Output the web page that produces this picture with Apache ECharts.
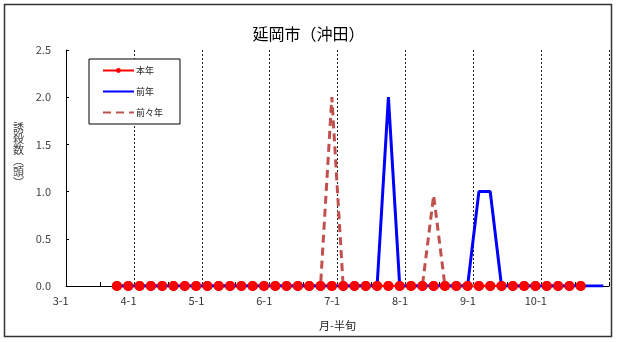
<!DOCTYPE html>
<html>
<head>
<meta charset="utf-8">
<script src="https://cdn.jsdelivr.net/npm/echarts@6/dist/echarts.min.js"></script>
<style>
html,body{margin:0;padding:0;background:#fff;}
#c{width:617px;height:342px;}
</style>
</head>
<body>
<div id="c"></div>
<script>
var months = ['3', '4', '5', '6', '7', '8', '9', '10'];
var halves = ['1', '2', '3', '4', '5', '6'];
var categories = [];
months.forEach(function (m) { halves.forEach(function (h) { categories.push(m + '-' + h); }); });

var seriesNames = ['本年', '前年', '前々年'];
var chartTitle = '延岡市（沖田）';
var yAxisTitle = '誘\n殺\n数\n︵\n頭\n︶';
var xAxisTitle = '月-半旬';

// 本年 (this year)
var thisYear = [
  null, null, null, null, 0, 0,
  0, 0, 0, 0, 0, 0,
  0, 0, 0, 0, 0, 0,
  0, 0, 0, 0, 0, 0,
  0, 0, 0, 0, 0, 0,
  0, 0, 0, 0, 0, 0,
  0, 0, 0, 0, 0, 0,
  0, 0, 0, 0, null, null
];
// 前年 (last year)
var lastYear = [
  null, null, null, null, 0, 0,
  0, 0, 0, 0, 0, 0,
  0, 0, 0, 0, 0, 0,
  0, 0, 0, 0, 0, 0,
  0, 0, 0, 0, 2, 0,
  0, 0, 0, 0, 0, 0,
  1, 1, 0, 0, 0, 0,
  0, 0, 0, 0, 0, 0
];
// 前々年 (two years ago)
var twoYearsAgo = [
  null, null, null, null, 0, 0,
  0, 0, 0, 0, 0, 0,
  0, 0, 0, 0, 0, 0,
  0, 0, 0, 0, 0, 2,
  0, 0, 0, 0, 0, 0,
  0, 0, 0.96, 0, 0, 0,
  0, 0, 0, 0, 0, 0,
  0, 0, 0, 0, null, null
];

var font = '"Noto Sans CJK JP", "Noto Sans", sans-serif';
var transparent = 'rgba(0,0,0,0)';
var chart = echarts.init(document.getElementById('c'), null, {renderer: 'canvas'});
chart.setOption({
  animation: false,
  backgroundColor: '#fff',
  textStyle: {fontFamily: font},
  title: {
    text: chartTitle,
    left: 'center',
    top: 21,
    textStyle: {fontSize: 16, fontWeight: 'normal', color: '#000', fontFamily: font}
  },
  graphic: [{
    type: 'rect',
    shape: {x: 4.5, y: 4.5, width: 607, height: 332},
    style: {fill: 'none', stroke: '#333', lineWidth: 1.5},
    silent: true,
    z: -1
  }, {
    type: 'text',
    left: 13,
    top: 122,
    silent: true,
    style: {
      text: yAxisTitle,
      font: '11px "Noto Sans CJK JP", sans-serif',
      lineHeight: 11,
      fill: '#444'
    }
  }],
  legend: {
    data: seriesNames,
    orient: 'vertical',
    left: 89,
    top: 59,
    padding: [7, 17, 7, 13],
    itemWidth: 31,
    itemHeight: 6,
    itemGap: 12,
    borderColor: '#000',
    borderWidth: 1,
    backgroundColor: '#fff',
    textStyle: {fontSize: 9, color: '#222', fontFamily: font, padding: [0, 0, 0, -3]}
  },
  grid: {left: 66, right: 8, top: 50, bottom: 56, containLabel: false},
  xAxis: {
    type: 'category',
    data: categories,
    boundaryGap: true,
    name: xAxisTitle,
    nameLocation: 'middle',
    nameGap: 34,
    nameTextStyle: {fontSize: 11, color: '#222', fontFamily: font},
    axisLine: {lineStyle: {color: '#000', width: 1}},
    axisTick: {
      show: true, inside: true, length: 4,
      interval: function (i) { return i % 6 === 3; },
      lineStyle: {color: '#000'}
    },
    axisLabel: {
      interval: function (i) { return i % 6 === 0; },
      fontSize: 11, color: '#333', margin: 9,
      padding: [0, 22, 0, 0],
      fontFamily: font
    },
    splitLine: {
      show: true,
      interval: function (i) { return i % 6 === 0 && i > 0; },
      lineStyle: {color: '#222', type: [2, 2], width: 1}
    }
  },
  yAxis: {
    type: 'value',
    min: 0,
    max: 2.5,
    interval: 0.5,
    axisLine: {show: true, lineStyle: {color: '#000', width: 1}},
    axisTick: {show: true, inside: true, length: 3, lineStyle: {color: '#000'}},
    axisLabel: {
      fontSize: 11, color: '#444', margin: 15, fontFamily: font,
      formatter: function (v) { return v.toFixed(1); }
    },
    splitLine: {show: false}
  },
  series: [
    {
      name: seriesNames[0], type: 'line', data: thisYear, z: 2,
      symbol: 'circle', symbolSize: 10, showSymbol: true, showAllSymbol: true,
      itemStyle: {color: '#ff0000', opacity: 1},
      lineStyle: {color: '#ff0000', width: 2.5}
    },
    {
      name: seriesNames[2], type: 'line', data: twoYearsAgo, z: 3,
      symbol: 'none',
      itemStyle: {color: transparent},
      lineStyle: {color: '#c0504d', width: 3, type: [8, 5]}
    },
    {
      name: seriesNames[1], type: 'line', data: lastYear, z: 4,
      symbol: 'none',
      itemStyle: {color: transparent},
      lineStyle: {color: '#0000ff', width: 3}
    },
    {
      name: seriesNames[0], type: 'scatter', data: thisYear, z: 5,
      symbol: 'circle', symbolSize: 10,
      itemStyle: {color: '#ff0000', opacity: 1}
    }
  ]
});
</script>
</body>
</html>
